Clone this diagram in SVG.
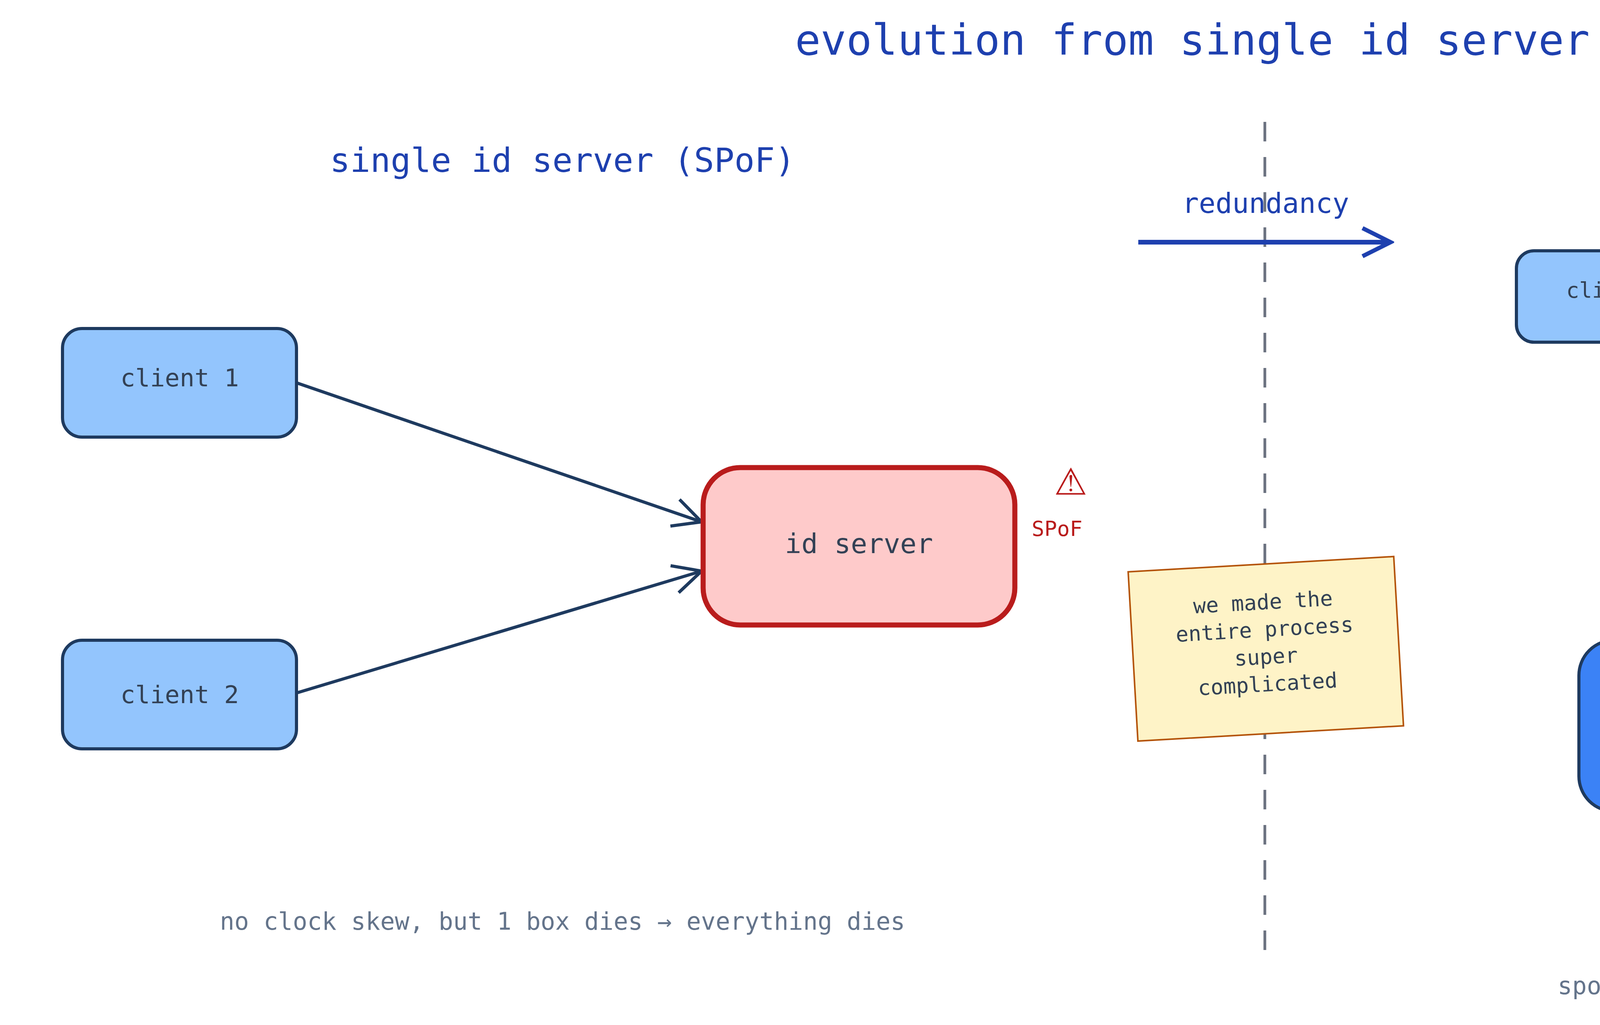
<svg xmlns="http://www.w3.org/2000/svg" width="6800" height="2624" viewBox="0 0 6800 2624">
<style>
text{font-family:"DejaVu Sans Mono","Liberation Mono",monospace;text-anchor:middle}
.h{fill:#1e40af}
.dk{fill:#334155}
.wt{fill:#ffffff}
.cap{fill:#64748b;font-size:62px}
.pur{fill:#6d28d9}
.edge{fill:none;stroke:#1e3a5f;stroke-width:8}
.cl{fill:#93c5fd;stroke:#1e3a5f;stroke-width:8}
</style>
<defs>
<marker id="ah" viewBox="0 0 20 20" refX="18" refY="10" markerWidth="90" markerHeight="90" markerUnits="userSpaceOnUse" orient="auto-start-reverse">
<path d="M2,2 L18,10 L2,18" fill="none" stroke="#1e3a5f" stroke-width="1.8"/>
</marker>
<marker id="ab" viewBox="0 0 20 20" refX="18" refY="10" markerWidth="90" markerHeight="90" markerUnits="userSpaceOnUse" orient="auto">
<path d="M2,2 L18,10 L2,18" fill="none" stroke="#1e40af" stroke-width="2.4"/>
</marker>
<marker id="ap" viewBox="0 0 20 20" refX="18" refY="10" markerWidth="90" markerHeight="90" markerUnits="userSpaceOnUse" orient="auto-start-reverse">
<path d="M2,2 L18,10 L2,18" fill="none" stroke="#6d28d9" stroke-width="1.6"/>
</marker>
</defs>
<rect width="6800" height="2624" fill="#ffffff"/>
<text x="3643" y="140" class="h" font-size="109">evolution from single id server to gossiping pair</text>
<text x="1440" y="440" class="h" font-size="86">single id server (SPoF)</text>
<text x="5240" y="440" class="h" font-size="86">redundant id servers (gossip overhead)</text>
<line x1="3238" y1="312" x2="3238" y2="2463" stroke="#6b7280" stroke-width="7" stroke-dasharray="50,40"/>
<text x="3240" y="545" class="h" font-size="71">redundancy</text>
<line x1="2914" y1="620" x2="3560" y2="620" stroke="#1e40af" stroke-width="12" marker-end="url(#ab)"/>

<g id="connectors">
<line class="edge" x1="759" y1="980" x2="1796" y2="1336" marker-end="url(#ah)"/>
<line class="edge" x1="759" y1="1774" x2="1796" y2="1462" marker-end="url(#ah)"/>
<line class="edge" x1="4398" y1="880" x2="5274" y2="1041" marker-end="url(#ah)"/>
<line class="edge" x1="6202" y1="880" x2="5365" y2="1041" marker-end="url(#ah)"/>
<line class="edge" x1="5118" y1="1318" x2="4606" y2="1637" marker-end="url(#ah)"/>
<line class="edge" x1="5521" y1="1318" x2="6033" y2="1637" marker-end="url(#ah)"/>
<polyline points="4961,1859 5080,1759 5199,1921 5319,1759 5438,1921 5559,1759 5681,1859" fill="none" stroke="#6d28d9" stroke-width="7" marker-start="url(#ap)" marker-end="url(#ap)"/>
</g>

<g id="l-client1"><rect class="cl" x="160" y="841" width="599" height="278" rx="50"/><text x="460" y="989" class="dk" font-size="63">client 1</text></g>
<g id="l-client2"><rect class="cl" x="160" y="1639" width="599" height="278" rx="50"/><text x="460" y="1800" class="dk" font-size="63">client 2</text></g>
<g id="idserver"><rect x="1800" y="1197" width="798" height="403" rx="95" fill="#fecaca" stroke="#b91c1c" stroke-width="13"/><text x="2199" y="1416" class="dk" font-size="70">id server</text></g>
<g id="spof"><text x="2741" y="1266" fill="#b91c1c" font-size="95" style="font-family:'DejaVu Sans',sans-serif">⚠</text><text x="2706" y="1372" fill="#b91c1c" font-size="54">SPoF</text></g>
<g id="note" transform="rotate(-3.3 3240 1661)">
<rect x="2900" y="1444" width="681" height="434" fill="#fef3c7" stroke="#b45309" stroke-width="4"/>
<text x="3240" y="1560" class="dk" font-size="54">we made the</text>
<text x="3240" y="1630" class="dk" font-size="54">entire process</text>
<text x="3240" y="1700" class="dk" font-size="54">super</text>
<text x="3240" y="1770" class="dk" font-size="54">complicated</text>
</g>
<text x="1440" y="2380" class="cap">no clock skew, but 1 box dies → everything dies</text>

<g id="r-client1"><rect class="cl" x="3882" y="642" width="516" height="234" rx="45"/><text x="4142" y="762" class="dk" font-size="55">client 1</text></g>
<g id="r-client2"><rect class="cl" x="6202" y="642" width="516" height="234" rx="45"/><text x="6460" y="762" class="dk" font-size="55">client 2</text></g>
<g id="lb"><rect x="4840" y="1041" width="959" height="273" rx="55" fill="#60a5fa" stroke="#1e3a5f" stroke-width="8"/><text x="5321" y="1193" class="wt" font-size="62">load balancer</text></g>
<g id="serverA"><rect x="4042" y="1639" width="915" height="438" rx="90" fill="#3b82f6" stroke="#1e3a5f" stroke-width="8"/>
<text x="4498" y="1772" class="wt" font-size="70">id server A</text>
<text x="4498" y="1883" class="wt" font-size="51">currently allocating</text>
<text x="4498" y="1948" class="wt" font-size="51">up to 102</text></g>
<g id="serverB"><rect x="5682" y="1639" width="915" height="438" rx="90" fill="#3b82f6" stroke="#1e3a5f" stroke-width="8"/>
<text x="6139" y="1772" class="wt" font-size="70">id server B</text>
<text x="6139" y="1883" class="wt" font-size="51">currently at 105</text></g>
<text x="5319" y="1630" class="pur" font-size="69">gossip</text>
<text x="5319" y="2195" class="pur" font-size="50">reserve range</text>
<text x="5319" y="2292" class="pur" font-size="50">agree on next batch</text>
<text x="5238" y="2545" class="cap">spof solved, but every id requires consensus — throughput collapses</text>
</svg>
